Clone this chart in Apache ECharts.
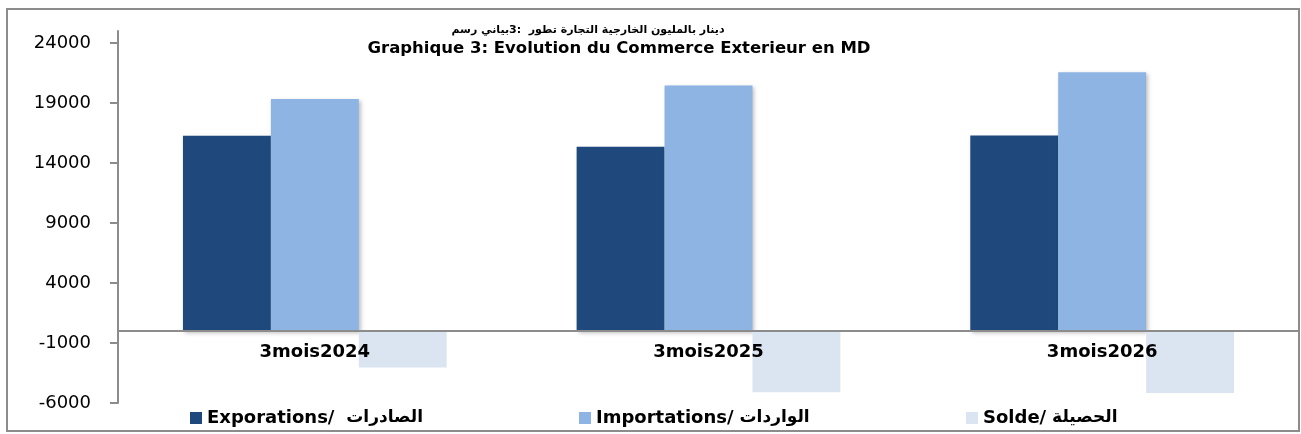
<!DOCTYPE html>
<html>
<head>
<meta charset="utf-8">
<script src="https://cdn.jsdelivr.net/npm/echarts@6/dist/echarts.min.js"></script>
<style>
  html, body { margin: 0; padding: 0; background: #fff; }
  #wrap { position: relative; width: 1301px; height: 434px; }
  #chart { position: absolute; left: 0; top: 0; width: 1301px; height: 434px; }
  #frame { position: absolute; left: 6px; top: 8px; width: 1294px; height: 424px; box-sizing: border-box; border: 2px solid #8c8c8c; pointer-events: none; }
</style>
</head>
<body>
<div id="wrap"><div id="chart"></div><div id="frame"></div></div>
<script>
const categories = ['3mois2024', '3mois2025', '3mois2026'];
const exportations = [16280, 15360, 16290];
const importations = [19330, 20460, 21570];
const solde = [-3050, -5100, -5160];
const yTickValues = [-6000, -1000, 4000, 9000, 14000, 19000, 24000];
const seriesNames = ['Exporations/  الصادرات', 'Importations/ الواردات', 'Solde/ الحصيلة'];
const titleArWords = ['رسم', 'بياني', '3:', '', 'تطور', 'التجارة', 'الخارجية', 'بالمليون', 'دينار'];
const titleFr = 'Graphique 3: Evolution du Commerce Exterieur en MD';

const FONT = '"DejaVu Sans", Verdana, sans-serif';
const colors = ['#1F497D', '#8EB4E3', '#DBE5F1'];

// Arabic words drawn as separate rich-text tokens, left to right as in the reference
const titleArText = titleArWords.map(w => w === '' ? '' : '{a|' + w + '}')
  .reduce((acc, t, i) => acc + (i === 0 ? '' : (titleArWords[i - 1] === 'بياني' ? '' : '{a| }')) + t, '');

function legendFormatter(name) {
  const i = name.indexOf('/');
  return '{l|' + name.slice(0, i + 1) + '}{a|' + name.slice(i + 1) + '}';
}

const chart = echarts.init(document.getElementById('chart'), null, { renderer: 'canvas' });
const legendPos = [190, 579, 966];
const option = {
  backgroundColor: '#ffffff',
  animation: false,
  title: [
    { text: titleArText, left: 588, top: 25, padding: 0, textAlign: 'center',
      textStyle: { fontFamily: FONT, fontSize: 11, fontWeight: 'bold', color: '#000',
        rich: { a: { fontFamily: FONT, fontSize: 11, fontWeight: 'bold', color: '#000' } } } },
    { text: titleFr, left: 619, top: 40, padding: 0, textAlign: 'center',
      textStyle: { fontFamily: FONT, fontSize: 16.5, fontWeight: 'bold', color: '#000' } }
  ],
  legend: seriesNames.map((n, i) => ({
    data: [n], left: legendPos[i], top: 409, padding: 0,
    itemWidth: 12, itemHeight: 12, icon: 'rect',
    selectedMode: false,
    formatter: legendFormatter,
    textStyle: { fontFamily: FONT, fontSize: 18, fontWeight: 'bold', color: '#000',
      rich: {
        l: { fontFamily: FONT, fontSize: 18, fontWeight: 'bold', color: '#000' },
        a: { fontFamily: FONT, fontSize: 17, fontWeight: 'bold', color: '#000' }
      } }
  })),
  grid: { left: 118, right: 2, top: 31, bottom: 31, containLabel: false },
  xAxis: {
    type: 'category',
    data: categories,
    z: 10,
    axisLine: { show: true, onZero: false, lineStyle: { color: '#8c8c8c', width: 2 } },
    axisTick: { show: false },
    axisLabel: { margin: 12, fontFamily: FONT, fontSize: 18, fontWeight: 'bold', color: '#000' },
    splitLine: { show: false }
  },
  yAxis: {
    type: 'value',
    min: -6000, max: 25000, interval: 5000,
    axisLine: { show: true, lineStyle: { color: '#8c8c8c', width: 2 } },
    axisTick: { show: true, inside: false, length: 8, customValues: yTickValues, lineStyle: { color: '#8c8c8c', width: 2 } },
    axisLabel: { customValues: yTickValues, margin: 27, fontFamily: FONT, fontSize: 18, color: '#000',
      formatter: v => String(v) },
    splitLine: { show: false }
  },
  series: [
    { name: seriesNames[0], type: 'bar', data: exportations, barGap: '0%', barCategoryGap: '33%',
      itemStyle: { color: colors[0], shadowBlur: 4, shadowOffsetX: 2, shadowOffsetY: 2, shadowColor: 'rgba(0,0,0,0.25)' } },
    { name: seriesNames[1], type: 'bar', data: importations, barGap: '0%', barCategoryGap: '33%',
      itemStyle: { color: colors[1], shadowBlur: 4, shadowOffsetX: 2, shadowOffsetY: 2, shadowColor: 'rgba(0,0,0,0.25)' } },
    { name: seriesNames[2], type: 'bar', data: solde, barGap: '0%', barCategoryGap: '33%',
      itemStyle: { color: colors[2] } }
  ]
};
chart.setOption(option);
// place the category axis (line + labels) on the zero value, using the library's own scale
const yZero = chart.convertToPixel({ yAxisIndex: 0 }, 0);
const yMin = chart.convertToPixel({ yAxisIndex: 0 }, option.yAxis.min);
chart.setOption({ xAxis: { offset: -(yMin - yZero) } });
</script>
</body>
</html>
